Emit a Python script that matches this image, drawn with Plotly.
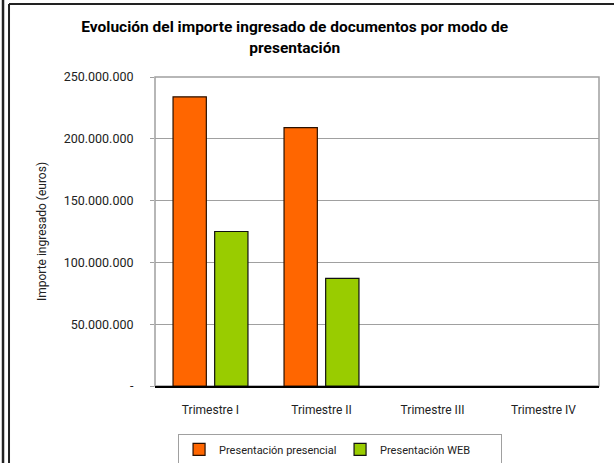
import plotly.graph_objects as go

trimestres = ["Trimestre I", "Trimestre II", "Trimestre III", "Trimestre IV"]
presencial = [234000000, 209000000, None, None]
web = [125000000, 87000000, None, None]
tick_vals = [0, 50000000, 100000000, 150000000, 200000000, 250000000]
tick_text = ["-", "50.000.000", "100.000.000", "150.000.000", "200.000.000", "250.000.000"]

font_main = "Roboto, Arial"

fig = go.Figure()
fig.add_trace(go.Bar(
    x=trimestres, y=presencial, name="Presentación presencial",
    marker=dict(color="#FF6600", line=dict(color="#2a1000", width=1.2)),
))
fig.add_trace(go.Bar(
    x=trimestres, y=web, name="Presentación WEB",
    marker=dict(color="#99CC00", line=dict(color="#111111", width=1.2)),
))

shapes = [
    # plot area border (grey)
    dict(type="rect", xref="paper", yref="paper", x0=0, x1=1, y0=0, y1=1,
         line=dict(color="#A0A0A0", width=1.5), layer="below"),
    # chart frame
    dict(type="line", xref="paper", yref="paper", x0=-0.3288, x1=-0.3288, y0=-0.3, y1=1.2362,
         line=dict(color="#222222", width=2)),
    dict(type="line", xref="paper", yref="paper", x0=-0.3288, x1=1.04, y0=1.2362, y1=1.2362,
         line=dict(color="#222222", width=2)),
    dict(type="line", xref="paper", yref="paper", x0=-0.3423, x1=-0.3423, y0=-0.3, y1=1.3,
         line=dict(color="#222222", width=2.5)),
]

fig.update_layout(
    width=614, height=463,
    margin=dict(l=155, r=15, t=77, b=77, autoexpand=False),
    paper_bgcolor="white", plot_bgcolor="white",
    title=dict(
        text="<b>Evolución del importe ingresado de documentos por modo de<br>presentación</b>",
        xref="container", x=0.48, xanchor="center",
        yref="container", y=0.93, yanchor="top",
        font=dict(family=font_main, size=15.5, color="black"),
    ),
    barmode="group", bargap=0.25, bargroupgap=0.2,
    font=dict(family=font_main, size=12, color="#222222"),
    xaxis=dict(
        showline=True, linecolor="black", linewidth=1.5,
        ticks="", tickfont=dict(size=12), showgrid=False,
        ticklabelstandoff=12,
    ),
    yaxis=dict(
        range=[0, 250000000], tickvals=tick_vals, ticktext=tick_text,
        showgrid=True, gridcolor="#A0A0A0", gridwidth=1,
        ticks="outside", ticklen=4, tickcolor="#A0A0A0",
        ticklabelstandoff=14,
        showline=False, zeroline=False, tickfont=dict(size=12.5),
        title=dict(text="Importe ingresado (euros)", font=dict(size=12), standoff=14),
    ),
    legend=dict(
        orientation="h", xref="container", x=0.29, xanchor="left",
        yref="container", y=0.063, yanchor="top",
        bordercolor="#A0A0A0", borderwidth=1, font=dict(size=11),
        itemwidth=30, tracegroupgap=0,
        entrywidth=116, entrywidthmode="pixels",
    ),
    shapes=shapes,
)

fig.write_html("out.html", config={"displayModeBar": False},
               post_script="document.body.style.margin='0';")
